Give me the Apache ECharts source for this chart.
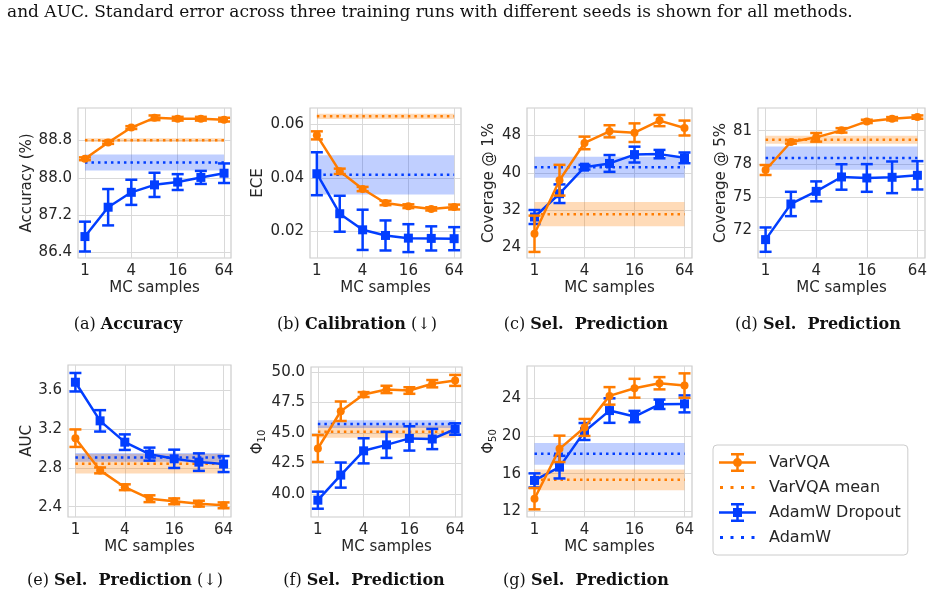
<!DOCTYPE html>
<html>
<head>
<meta charset="utf-8">
<script src="https://cdn.jsdelivr.net/npm/echarts@6/dist/echarts.min.js"></script>
<style>
  html, body { margin: 0; padding: 0; background: #fff; }
  #main { width: 933px; height: 600px; }
</style>
</head>
<body>
<div id="main"></div>
<script>
// x axis: number of MC samples (drawn on a log2 scale)
const mcSamples = [1, 2, 4, 8, 16, 32, 64];
const xTicks = [1, 4, 16, 64];

// (a) Accuracy
const accVar = [88.41, 88.76, 89.08, 89.29, 89.27, 89.27, 89.25];
const accVarErr = [0.03, 0.03, 0.03, 0.05, 0.04, 0.04, 0.04];
const accDrop = [86.74, 87.37, 87.69, 87.85, 87.91, 88.01, 88.10];
const accDropErr = [0.32, 0.39, 0.27, 0.26, 0.17, 0.14, 0.21];
const accVarMean = [88.81, 0.04];   // mean, std err
const accAdamW = [88.33, 0.17];
const accTicks = [86.4, 87.2, 88.0, 88.8];

// (b) ECE
const eceVar = [0.0558, 0.0424, 0.0358, 0.0306, 0.0294, 0.0284, 0.0291];
const eceVarErr = [0.0015, 0.001, 0.0008, 0.0008, 0.0007, 0.0006, 0.0009];
const eceDrop = [0.0415, 0.0266, 0.0206, 0.0185, 0.0175, 0.0174, 0.0173];
const eceDropErr = [0.008, 0.0067, 0.0075, 0.0056, 0.0052, 0.0045, 0.0043];
const eceVarMean = [0.0629, 0.001];
const eceAdamW = [0.0411, 0.0073];
const eceTicks = [0.02, 0.04, 0.06];

// (c) Coverage @ 1%
const cov1Var = [26.9, 38.4, 46.4, 48.9, 48.6, 51.2, 49.6];
const cov1VarErr = [3.9, 3.3, 1.35, 1.3, 2.0, 1.2, 1.6];
const cov1Drop = [30.5, 35.5, 41.2, 42.0, 43.9, 44.0, 43.2];
const cov1DropErr = [1.5, 2.0, 0.5, 1.8, 1.7, 0.9, 1.15];
const cov1VarMean = [31.1, 2.6];
const cov1AdamW = [41.2, 2.25];
const cov1Ticks = [24, 32, 40, 48];

// (d) Coverage @ 5%
const cov5Var = [77.45, 79.98, 80.40, 81.03, 81.84, 82.08, 82.23];
const cov5VarErr = [0.45, 0.15, 0.39, 0.2, 0.15, 0.15, 0.15];
const cov5Drop = [71.16, 74.38, 75.52, 76.82, 76.73, 76.79, 76.97];
const cov5DropErr = [1.1, 1.1, 0.9, 1.15, 1.25, 1.43, 1.28];
const cov5VarMean = [80.19, 0.36];
const cov5AdamW = [78.53, 1.05];
const cov5Ticks = [72, 75, 78, 81];

// (e) AUC
const aucVar = [3.104, 2.773, 2.60, 2.482, 2.455, 2.431, 2.414];
const aucVarErr = [0.09, 0.03, 0.03, 0.035, 0.03, 0.03, 0.03];
const aucDrop = [3.679, 3.282, 3.063, 2.94, 2.892, 2.858, 2.838];
const aucDropErr = [0.095, 0.11, 0.08, 0.067, 0.094, 0.09, 0.082];
const aucVarMean = [2.841, 0.1];
const aucAdamW = [2.906, 0.045];
const aucTicks = [2.4, 2.8, 3.2, 3.6];

// (f) Phi_10
const phi10Var = [43.72, 46.78, 48.15, 48.57, 48.48, 49.04, 49.31];
const phi10VarErr = [1.1, 0.8, 0.2, 0.3, 0.27, 0.3, 0.45];
const phi10Drop = [39.48, 41.54, 43.53, 44.02, 44.55, 44.5, 45.32];
const phi10DropErr = [0.7, 1.03, 1.03, 1.07, 1.0, 0.83, 0.47];
const phi10VarMean = [45.1, 0.5];
const phi10AdamW = [45.73, 0.32];
const phi10Ticks = [40, 42.5, 45, 47.5, 50];

// (g) Phi_50
const phi50Var = [13.34, 18.63, 20.9, 24.25, 25.06, 25.59, 25.34];
const phi50VarErr = [1.13, 1.4, 0.9, 0.93, 1.0, 0.65, 1.3];
const phi50Drop = [15.28, 16.69, 20.47, 22.69, 22.06, 23.36, 23.4];
const phi50DropErr = [0.75, 1.2, 0.9, 1.3, 0.6, 0.5, 0.9];
const phi50VarMean = [15.35, 1.1];
const phi50AdamW = [18.1, 1.15];
const phi50Ticks = [12, 16, 20, 24];

const ORANGE = '#ff7c00';
const BLUE = '#023eff';
const TXT = '#262626';
const SANS = 'DejaVu Sans';
const SERIF = 'DejaVu Serif';

const panels = [
  {box: [78, 108, 153, 150], yr: [86.28, 89.50], name: 'Accuracy (%)', gap: 42, ticks: accTicks, dec: 1,
   v: accVar, ve: accVarErr, d: accDrop, de: accDropErr, vm: accVarMean, am: accAdamW},
  {box: [310, 108, 151, 150], yr: [0.0101, 0.066], name: 'ECE', gap: 44, ticks: eceTicks, dec: 2,
   v: eceVar, ve: eceVarErr, d: eceDrop, de: eceDropErr, vm: eceVarMean, am: eceAdamW},
  {box: [527, 108, 165, 150], yr: [21.7, 53.9], name: 'Coverage @ 1%', gap: 30, ticks: cov1Ticks, dec: 0,
   v: cov1Var, ve: cov1VarErr, d: cov1Drop, de: cov1DropErr, vm: cov1VarMean, am: cov1AdamW},
  {box: [758, 108, 167, 150], yr: [69.5, 83.05], name: 'Coverage @ 5%', gap: 29, ticks: cov5Ticks, dec: 0,
   v: cov5Var, ve: cov5VarErr, d: cov5Drop, de: cov5DropErr, vm: cov5VarMean, am: cov5AdamW},
  {box: [68, 365, 163, 152], yr: [2.294, 3.856], name: 'AUC', gap: 33, ticks: aucTicks, dec: 1,
   v: aucVar, ve: aucVarErr, d: aucDrop, de: aucDropErr, vm: aucVarMean, am: aucAdamW},
  {box: [311, 367, 151, 150], yr: [38.1, 50.41], name: '{p|Φ}{s|10}', gap: 44, ticks: phi10Ticks, dec: 1,
   v: phi10Var, ve: phi10VarErr, d: phi10Drop, de: phi10DropErr, vm: phi10VarMean, am: phi10AdamW},
  {box: [527, 366, 165, 151], yr: [11.4, 27.42], name: '{p|Φ}{s|50}', gap: 28, ticks: phi50Ticks, dec: 0,
   v: phi50Var, ve: phi50VarErr, d: phi50Drop, de: phi50DropErr, vm: phi50VarMean, am: phi50AdamW}
];

// sub-figure captions (centre x, centre y)
const captions = [
  {x: 128, y: 325, lab: '(a) ', bold: 'Accuracy', tail: ''},
  {x: 357, y: 325, lab: '(b) ', bold: 'Calibration', tail: ' (↓)'},
  {x: 586, y: 325, lab: '(c) ', bold: 'Sel.  Prediction', tail: ''},
  {x: 818, y: 325, lab: '(d) ', bold: 'Sel.  Prediction', tail: ''},
  {x: 125, y: 581, lab: '(e) ', bold: 'Sel.  Prediction', tail: ' (↓)'},
  {x: 364, y: 581, lab: '(f) ', bold: 'Sel.  Prediction', tail: ''},
  {x: 586, y: 581, lab: '(g) ', bold: 'Sel.  Prediction', tail: ''}
];

const xs = mcSamples.map(n => Math.log2(n));
const xFirst = xs[0], xLast = xs[xs.length - 1];

function errBars(name, color, idx, vals, errs) {
  return {
    type: 'custom', name: name, xAxisIndex: idx, yAxisIndex: idx,
    z: color === ORANGE ? 5 : 4,
    data: xs.map((x, k) => [x, vals[k] - errs[k], vals[k] + errs[k]]),
    encode: {x: 0, y: [1, 2]},
    renderItem: function (params, api) {
      const t = api.coord([api.value(0), api.value(2)]);
      const b = api.coord([api.value(0), api.value(1)]);
      const st = {stroke: color, lineWidth: 2.5};
      return {type: 'group', children: [
        {type: 'line', shape: {x1: t[0], y1: t[1], x2: b[0], y2: b[1]}, style: st},
        {type: 'line', shape: {x1: t[0] - 6, y1: t[1], x2: t[0] + 6, y2: t[1]}, style: st},
        {type: 'line', shape: {x1: b[0] - 6, y1: b[1], x2: b[0] + 6, y2: b[1]}, style: st}
      ]};
    }
  };
}

function meanLine(name, color, band, idx, m) {
  return {
    type: 'line', name: name, xAxisIndex: idx, yAxisIndex: idx, z: 2,
    data: [[xFirst, m[0]], [xLast, m[0]]],
    symbol: 'none', silent: true,
    itemStyle: {color: color},
    lineStyle: {color: color, width: 2.5, type: [2.5, 4]},
    markArea: {
      silent: true,
      itemStyle: {color: band},
      data: [[{xAxis: xFirst, yAxis: m[0] - m[1]}, {xAxis: xLast, yAxis: m[0] + m[1]}]]
    }
  };
}

function mainLine(name, color, sym, size, idx, vals) {
  return {
    type: 'line', name: name, xAxisIndex: idx, yAxisIndex: idx,
    z: color === ORANGE ? 5 : 4,
    data: xs.map((x, k) => [x, vals[k]]),
    symbol: sym, symbolSize: size, showSymbol: true,
    itemStyle: {color: color},
    lineStyle: {color: color, width: 2.5}
  };
}

const grids = [], xAxes = [], yAxes = [], series = [];

panels.forEach(function (p, i) {
  grids.push({left: p.box[0], top: p.box[1], width: p.box[2], height: p.box[3],
    show: true, borderColor: '#cccccc', borderWidth: 1.2, backgroundColor: '#fff'});
  xAxes.push({
    gridIndex: i, type: 'value', min: -0.3, max: 6.3,
    name: 'MC samples', nameLocation: 'middle', nameGap: 23,
    nameTextStyle: {fontFamily: SANS, fontSize: 15, color: TXT},
    axisLine: {show: false},
    axisTick: {show: false, customValues: xTicks.map(Math.log2)},
    axisLabel: {customValues: xTicks.map(Math.log2), fontFamily: SANS, fontSize: 15, color: TXT, margin: 6,
      formatter: v => String(Math.round(Math.pow(2, v)))},
    splitLine: {show: true, lineStyle: {color: '#d9d9d9', width: 1}}
  });
  yAxes.push({
    gridIndex: i, type: 'value', min: p.yr[0], max: p.yr[1],
    name: p.name, nameLocation: 'middle', nameGap: p.gap,
    nameTextStyle: {fontFamily: SANS, fontSize: 15, color: TXT,
      rich: {p: {fontFamily: SANS, fontSize: 15, color: TXT},
             s: {fontFamily: SANS, fontSize: 10, color: TXT, padding: [8, 0, 0, 0]}}},
    axisLine: {show: false},
    axisTick: {show: false, customValues: p.ticks},
    axisLabel: {customValues: p.ticks, fontFamily: SANS, fontSize: 15, color: TXT, margin: 6,
      formatter: v => v.toFixed(p.dec)},
    splitLine: {show: true, lineStyle: {color: '#d9d9d9', width: 1}}
  });
  series.push(mainLine('VarVQA', ORANGE, 'circle', 8, i, p.v));
  series.push(errBars('VarVQA', ORANGE, i, p.v, p.ve));
  series.push(meanLine('VarVQA mean', ORANGE, 'rgba(255,124,0,0.28)', i, p.vm));
  series.push(mainLine('AdamW Dropout', BLUE, 'rect', 9, i, p.d));
  series.push(errBars('AdamW Dropout', BLUE, i, p.d, p.de));
  series.push(meanLine('AdamW', BLUE, 'rgba(2,62,255,0.25)', i, p.am));
});

// legend icons drawn in a 45x19 box (last 8px left empty as gap before text)
const iconBar = 'path://M0,0 M45,19 M0,8.25h37v2.5h-37z M17.25,0h2.5v19h-2.5z M12,0h13v2.5h-13z M12,16.5h13v2.5h-13z';
const iconCircle = iconBar + ' M14,9.5a4.5,4.5 0 1,1 9,0a4.5,4.5 0 1,1 -9,0z';
const iconSquare = iconBar + ' M14,5h9v9h-9z';
const iconDots = 'path://M0,0 M45,19 M1,8h3v3h-3z M11.5,8h3v3h-3z M22,8h3v3h-3z M32.5,8h3v3h-3z';

const graphics = [{
  type: 'text', left: 7, top: 4,
  style: {text: 'and AUC. Standard error across three training runs with different seeds is shown for all methods.',
    font: '17px "DejaVu Serif"', fill: '#111'}
}];
captions.forEach(function (c) {
  graphics.push({
    type: 'text', x: c.x, y: c.y,
    style: {
      text: '{n|' + c.lab + '}{b|' + c.bold + '}{n|' + c.tail + '}',
      align: 'center', verticalAlign: 'middle',
      rich: {
        n: {fontFamily: SERIF, fontSize: 16, fill: '#111'},
        b: {fontFamily: SERIF, fontSize: 16, fontWeight: 'bold', fill: '#111'}
      }
    }
  });
});

const chart = echarts.init(document.getElementById('main'), null, {renderer: 'canvas'});
chart.setOption({
  animation: false,
  backgroundColor: '#fff',
  grid: grids,
  xAxis: xAxes,
  yAxis: yAxes,
  legend: {
    left: 713, top: 445, orient: 'vertical',
    padding: [8, 7, 8, 6], itemGap: 6,
    itemWidth: 45, itemHeight: 19,
    borderColor: '#cccccc', borderWidth: 1, borderRadius: 4,
    textStyle: {fontFamily: SANS, fontSize: 16, color: TXT},
    data: [
      {name: 'VarVQA', icon: iconCircle},
      {name: 'VarVQA mean', icon: iconDots},
      {name: 'AdamW Dropout', icon: iconSquare},
      {name: 'AdamW', icon: iconDots}
    ]
  },
  graphic: graphics,
  series: series
});
</script>
</body>
</html>
